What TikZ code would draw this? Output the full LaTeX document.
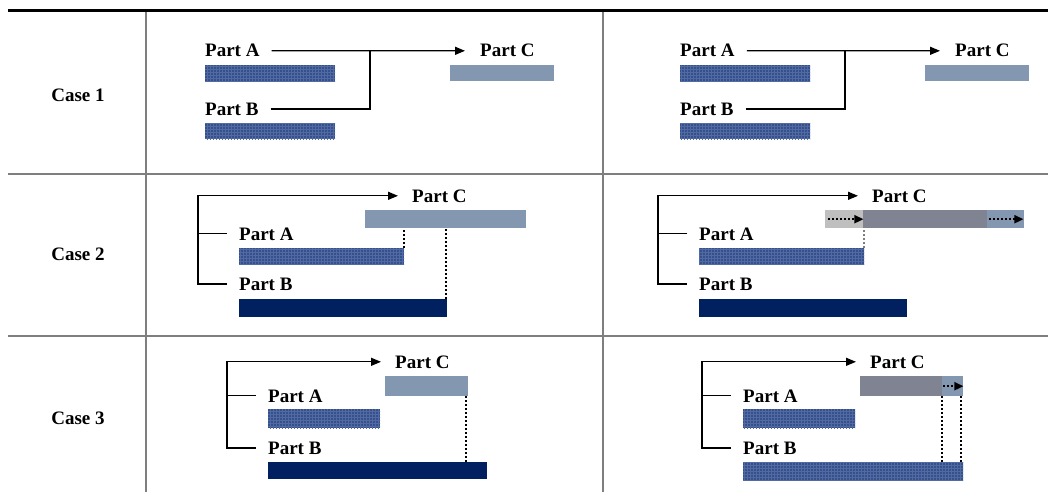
\documentclass[tikz,border=0pt]{standalone}
\usepackage{fontspec}
\setmainfont{Liberation Serif}
\usetikzlibrary{arrows.meta}
\usetikzlibrary{patterns}

\definecolor{partblue}{HTML}{34508E}
\definecolor{partnavy}{HTML}{002060}
\definecolor{partgrey}{HTML}{8497B0}
\definecolor{darkgrey}{HTML}{808391}
\definecolor{lightgrey}{HTML}{BFBFBF}
\definecolor{rulegrey}{HTML}{7F7F7F}

\begin{document}
\begin{tikzpicture}[x=1pt, y=-1pt, font=\fontsize{19}{21}\selectfont\bfseries,
    bar/.style 2 args={inner sep=0pt, anchor=north west, minimum width=#1, minimum height=#2}]
  \tikzstyle{txt} = [inner sep=0pt, anchor=base west]
  \tikzstyle{conn} = [line width=1.3pt]
  \tikzstyle{toarrow} = [-{Triangle[length=10pt,width=8pt]}]
  \tikzstyle{dots} = [dotted, line width=2pt]
  \tikzstyle{dotarrow} = [dotted, line width=2pt, -{Triangle[length=9pt,width=8pt]}]
  \tikzstyle{rule} = [draw=rulegrey, line width=1.3pt]
  \tikzstyle{hatch} = [fill=partblue, postaction={pattern=grid, pattern color=partblue!85!white}]
  \useasboundingbox (0,0) rectangle (1048,492);

  \draw[line width=3.5pt] (8,10.5) -- (1048,10.5);
  \draw[rule] (8,174) -- (1048,174);
  \draw[rule] (8,336) -- (1048,336);
  \draw[rule] (146,12) -- (146,492);
  \draw[rule] (603,12) -- (603,492);

  \node (case1) at (78,95) {Case 1};
  \node (case2) at (78,254) {Case 2};
  \node (case3) at (78,418) {Case 3};

  \foreach \dx/\s in {0/l,475/r}{
    \node[txt] (pa1\s) at (205+\dx,57) {Part A};
    \node[txt] (pb1\s) at (205+\dx,115) {Part B};
    \node[txt] (pc1\s) at (480+\dx,57) {Part C};
    \coordinate (j1\s) at (370+\dx,0);
    \node[bar={130pt}{16pt}, hatch] (ba1\s) at (205+\dx,65) {};
    \node[bar={130pt}{16pt}, hatch] (bb1\s) at (205+\dx,123) {};
    \node[bar={104pt}{16pt}, fill=partgrey] (bc1\s) at (450+\dx,65) {};
    \draw[conn, toarrow, shorten <=12pt, shorten >=15pt] (pa1\s.east) -- (pc1\s.west);
    \draw[conn, shorten <=12pt] (pb1\s.east) -| (j1\s |- pa1\s.east);
  }

  \foreach \dx/\s in {0/l,460/r}{
    \node[txt] (pa2\s) at (239+\dx,240) {Part A};
    \node[txt] (pb2\s) at (239+\dx,290) {Part B};
    \node[txt] (pc2\s) at (412+\dx,202) {Part C};
    \coordinate (k2\s) at (198+\dx,0);
    \draw[conn, toarrow, shorten >=14pt] ([xshift=-12pt]pb2\s.west) -| (k2\s |- pc2\s.west) -- (pc2\s.west);
    \draw[conn] ([xshift=-12pt]pa2\s.west) -- (k2\s |- pa2\s.west);
    \node[bar={165pt}{16pt}, hatch] (ba2\s) at (239+\dx,248) {};
    \node[bar={208pt}{18pt}, fill=partnavy] (bb2\s) at (239+\dx,299) {};
  }
  \node[bar={161pt}{18pt}, fill=partgrey] (bc2l) at (365,210) {};
  \draw[dots] (ba2l.north east) -- (ba2l.north east |- bc2l.south);
  \draw[dots] ([xshift=-1pt]bb2l.north east) -- ([xshift=-1pt]bb2l.north east |- bc2l.south);
  \node[bar={38pt}{18pt}, fill=lightgrey] (cl2r) at (825,210) {};
  \node[bar={124pt}{18pt}, fill=darkgrey] (cm2r) at (863,210) {};
  \node[bar={37pt}{18pt}, fill=partgrey] (cr2r) at (987,210) {};
  \draw[dotarrow] ([xshift=3pt]cl2r.west) -- (cl2r.east);
  \draw[dotarrow] ([xshift=2pt]cr2r.west) -- ([xshift=-1pt]cr2r.east);
  \draw[dots, draw=rulegrey] (ba2r.north east) -- (ba2r.north east |- cm2r.south);

  \foreach \dx/\s in {0/l,475/r}{
    \node[txt] (pa3\s) at (268+\dx,402) {Part A};
    \node[txt] (pb3\s) at (268+\dx,454) {Part B};
    \node[txt] (pc3\s) at (395+\dx,368) {Part C};
    \coordinate (k3\s) at (227+\dx,0);
    \draw[conn, toarrow, shorten >=14pt] ([xshift=-12pt]pb3\s.west) -| (k3\s |- pc3\s.west) -- (pc3\s.west);
    \draw[conn] ([xshift=-12pt]pa3\s.west) -- (k3\s |- pa3\s.west);
    \node[bar={112pt}{19pt}, hatch] (ba3\s) at (268+\dx,409) {};
  }
  \node[bar={219pt}{17pt}, fill=partnavy] (bb3l) at (268,462) {};
  \node[bar={83pt}{20pt}, fill=partgrey] (bc3l) at (385,376) {};
  \draw[dots] ([xshift=-2pt]bc3l.south east) -- ([xshift=-2pt]bc3l.south east |- bb3l.north);
  \node[bar={220pt}{18pt}, hatch] (bb3r) at (743,462) {};
  \node[bar={82pt}{20pt}, fill=darkgrey] (cm3r) at (860,376) {};
  \node[bar={21pt}{20pt}, fill=partgrey] (cr3r) at (942,376) {};
  \draw[dotarrow] ([xshift=1pt]cr3r.west) -- (cr3r.east);
  \draw[dots] (cm3r.south east) -- (cm3r.south east |- bb3r.north);
  \draw[dots] ([xshift=-2pt]cr3r.south east) -- ([xshift=-2pt]cr3r.south east |- bb3r.north);
\end{tikzpicture}
\end{document}
